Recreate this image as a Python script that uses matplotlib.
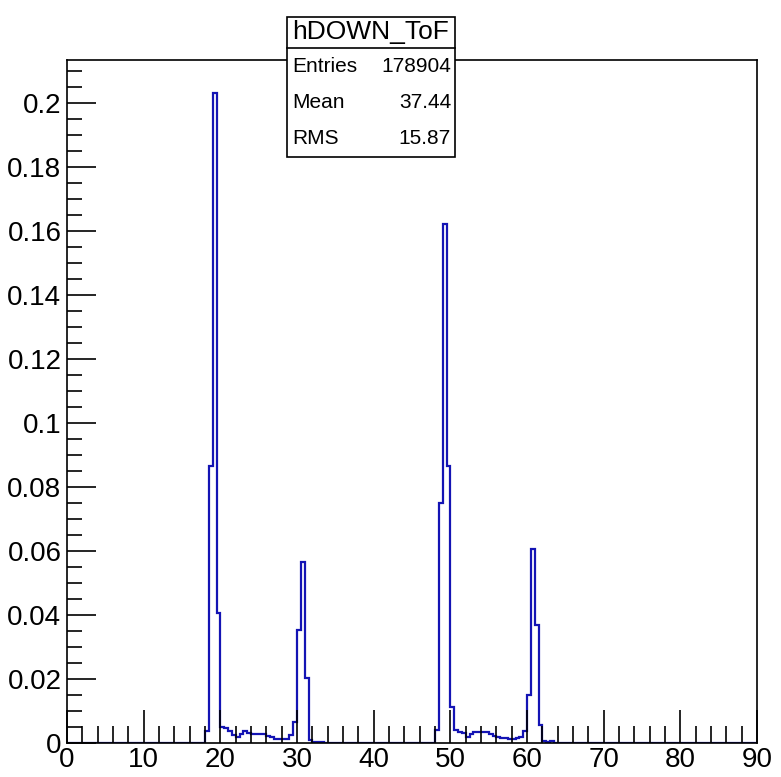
import numpy as np
import matplotlib
matplotlib.use("Agg")
import matplotlib.pyplot as plt
from matplotlib.ticker import MultipleLocator, FixedLocator

plt.rcParams['font.family'] = ['Liberation Sans', 'DejaVu Sans']

# histogram: 180 bins of 0.5 over [0, 90], only the non-empty bins are listed
bin_width = 0.5
x_min, x_max = 0.0, 90.0
bin_start = [18.0, 18.5, 19.0, 19.5, 20.0, 20.5, 21.0, 21.5, 22.0, 22.5,
             23.0, 23.5, 24.0, 24.5, 25.0, 25.5, 26.0, 26.5, 27.0, 27.5,
             28.0, 28.5, 29.0, 29.5, 30.0, 30.5, 31.0, 31.5, 32.0, 32.5,
             33.0,
             48.0, 48.5, 49.0, 49.5, 50.0, 50.5, 51.0, 51.5, 52.0, 52.5,
             53.0, 53.5, 54.0, 54.5, 55.0, 55.5, 56.0, 56.5, 57.0, 57.5,
             58.0, 58.5, 59.0, 59.5, 60.0, 60.5, 61.0, 61.5, 62.0, 62.5,
             63.0]
content = [0.0040, 0.0868, 0.2034, 0.0406, 0.0052, 0.0048, 0.0040, 0.0026, 0.0020, 0.0028,
           0.0037, 0.0033, 0.0029, 0.0029, 0.0029, 0.0028, 0.0024, 0.0021, 0.0015, 0.0014,
           0.0014, 0.0015, 0.0026, 0.0066, 0.0354, 0.0567, 0.0203, 0.0011, 0.0005, 0.0005,
           0.0005,
           0.0042, 0.0750, 0.1622, 0.0866, 0.0114, 0.0042, 0.0036, 0.0031, 0.0021, 0.0028,
           0.0034, 0.0034, 0.0034, 0.0034, 0.0029, 0.0024, 0.0021, 0.0017, 0.0016, 0.0013,
           0.0012, 0.0016, 0.0020, 0.0040, 0.0152, 0.0608, 0.0371, 0.0057, 0.0007, 0.0004,
           0.0006]

hist_name = "hDOWN_ToF"
stat_labels = ["Entries", "Mean", "RMS"]
stat_values = ["178904", "37.44", "15.87"]

y_ticks = [0, 0.02, 0.04, 0.06, 0.08, 0.1, 0.12, 0.14, 0.16, 0.18, 0.2]
y_ticklabels = ["0", "0.02", "0.04", "0.06", "0.08", "0.1", "0.12", "0.14", "0.16", "0.18", "0.2"]

edges = np.arange(x_min, x_max + bin_width / 2, bin_width)
counts = np.zeros(len(edges) - 1)
for s, c in zip(bin_start, content):
    counts[int(round((s - x_min) / bin_width))] = c

W, H = 781, 777
fig = plt.figure(figsize=(W / 100, H / 100), dpi=100)
ax = fig.add_axes([67 / W, (H - 743.3) / H, 690 / W, (743.3 - 60) / H])

ax.stairs(counts, edges, color='#1414b4', linewidth=1.6, zorder=1)

ax.set_xlim(x_min, x_max)
ax.set_ylim(0, max(content) * 1.05)

for sp in ax.spines.values():
    sp.set_linewidth(1.2)
    sp.set_zorder(3)

ax.xaxis.set_major_locator(MultipleLocator(10))
ax.xaxis.set_minor_locator(MultipleLocator(2))
ax.yaxis.set_major_locator(FixedLocator(y_ticks))
ax.set_yticklabels(y_ticklabels)
ax.yaxis.set_minor_locator(MultipleLocator(0.005))
ax.tick_params(axis='x', which='major', direction='in', length=24, width=1.2,
               labelsize=20, pad=3, top=False)
ax.tick_params(axis='x', which='minor', direction='in', length=12, width=1.2, top=False)
ax.tick_params(axis='y', which='major', direction='in', length=21, width=1.2,
               labelsize=20, pad=4, right=False)
ax.tick_params(axis='y', which='minor', direction='in', length=11, width=1.2, right=False)

# stats box
bx0, bx1 = 287 / W, 455 / W
by_top, by_sep, by_bot = 1 - 17 / H, 1 - 48 / H, 1 - 157 / H
box = plt.Rectangle((bx0, by_bot), bx1 - bx0, by_top - by_bot, transform=fig.transFigure,
                    facecolor='white', edgecolor='black', linewidth=1.2, zorder=10)
fig.add_artist(box)
fig.add_artist(plt.Line2D([bx0, bx1], [by_sep, by_sep], transform=fig.transFigure,
                          color='black', linewidth=1.2, zorder=11))
fig.text((bx0 + bx1) / 2, (by_top + by_sep) / 2, hist_name, ha='center', va='center',
         fontsize=19, zorder=12)
row_h = (by_sep - by_bot) / len(stat_labels)
for i, (lab, val) in enumerate(zip(stat_labels, stat_values)):
    yc = by_sep - row_h * (i + 0.5)
    fig.text(bx0 + 5 / W, yc, lab, ha='left', va='center', fontsize=15, zorder=12)
    fig.text(bx1 - 4 / W, yc, val, ha='right', va='center', fontsize=15, zorder=12)

fig.savefig("out.png", dpi=100)
